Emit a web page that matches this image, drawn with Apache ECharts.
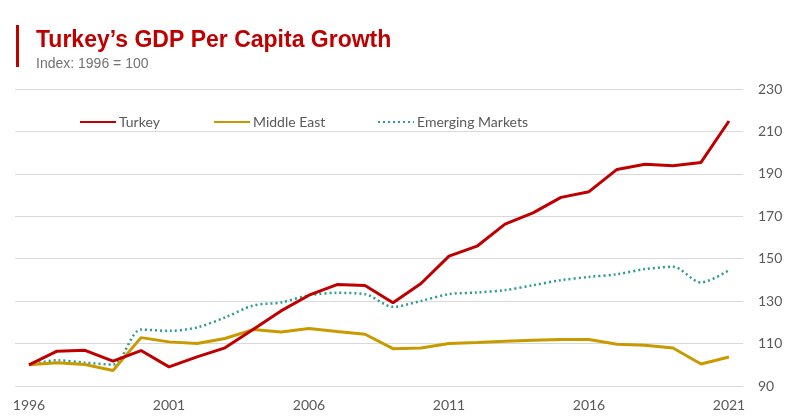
<!DOCTYPE html>
<html>
<head>
<meta charset="utf-8">
<script src="https://cdn.jsdelivr.net/npm/echarts@6/dist/echarts.min.js"></script>
<style>
  html, body { margin: 0; padding: 0; background: #fff; }
  #chart { width: 800px; height: 418px; }
</style>
</head>
<body>
<div id="chart"></div>
<script>
const years = ['1996', '1997', '1998', '1999', '2000', '2001', '2002', '2003', '2004', '2005',
  '2006', '2007', '2008', '2009', '2010', '2011', '2012', '2013', '2014', '2015',
  '2016', '2017', '2018', '2019', '2020', '2021']

const turkey = [100, 106.4, 106.8, 101.7, 106.7, 99.0, 103.7, 108.0, 116.6, 125.4,
  132.8, 137.8, 137.4, 129.2, 138.3, 151.2, 155.9, 166.3, 171.6, 178.9,
  181.6, 192.1, 194.5, 193.8, 195.4, 214.9]

const middleEast = [100, 101.0, 100.1, 97.3, 112.8, 110.8, 110.0, 112.4, 116.6, 115.5,
  117.1, 115.7, 114.4, 107.6, 107.9, 110.0, 110.5, 111.1, 111.6, 111.9,
  111.9, 109.7, 109.2, 107.9, 100.4, 103.7]

const emerging = [100, 102.1, 101.0, 100.1, 116.6, 116.0, 117.6, 122.3, 127.9, 129.4,
  132.8, 133.9, 133.3, 127.3, 130.1, 133.3, 134.1, 135.2, 137.5, 139.9,
  141.4, 142.7, 145.1, 146.2, 138.8, 144.6]

const colors = {
  turkey: '#C00000',
  middleEast: '#C99A00',
  emerging: '#2E9C8E'
}

const labelFont = 'Lato, "Open Sans", sans-serif'

// one legend per item so each sits where the original puts it
function legendAt(name, left) {
  return {
    data: [name],
    left: left,
    top: 115,
    padding: 0,
    itemWidth: 36,
    itemHeight: 12,
    itemGap: 0,
    itemStyle: { opacity: 0 },
    textStyle: { color: '#595959', fontSize: 14, fontFamily: labelFont, padding: [0, 0, 0, -2] }
  }
}

const chart = echarts.init(document.getElementById('chart'))

chart.setOption({
  backgroundColor: '#ffffff',
  animation: false,
  title: {
    text: 'Turkey’s GDP Per Capita Growth',
    subtext: 'Index: 1996 = 100',
    left: 31,
    top: 24,
    itemGap: 5,
    textStyle: {
      color: '#C00000',
      fontSize: 23,
      fontWeight: 'bold',
      fontFamily: '"Liberation Sans", Arial, sans-serif'
    },
    subtextStyle: {
      color: '#737373',
      fontSize: 14,
      fontFamily: '"Liberation Sans", Arial, sans-serif'
    }
  },
  graphic: [{
    type: 'rect',
    shape: { x: 16, y: 25, width: 3, height: 42 },
    style: { fill: '#C00000' }
  }],
  legend: [
    legendAt('Turkey', 79),
    legendAt('Middle East', 213),
    legendAt('Emerging Markets', 377)
  ],
  grid: { left: 15, right: 57, top: 89, bottom: 32 },
  xAxis: {
    type: 'category',
    data: years,
    boundaryGap: true,
    axisLine: { show: false },
    axisTick: { show: false },
    axisLabel: {
      interval: 4,
      color: '#595959',
      fontSize: 14,
      fontFamily: labelFont,
      margin: 12
    }
  },
  yAxis: {
    type: 'value',
    position: 'right',
    min: 90,
    max: 230,
    interval: 20,
    axisLine: { show: false },
    axisTick: { show: false },
    axisLabel: {
      color: '#595959',
      fontSize: 14,
      fontFamily: labelFont,
      margin: 15
    },
    splitLine: { lineStyle: { color: '#d9d9d9', width: 1 } }
  },
  series: [
    {
      name: 'Turkey',
      type: 'line',
      data: turkey,
      symbol: 'none',
      color: colors.turkey,
      lineStyle: { color: colors.turkey, width: 3 },
      z: 3
    },
    {
      name: 'Middle East',
      type: 'line',
      data: middleEast,
      symbol: 'none',
      color: colors.middleEast,
      lineStyle: { color: colors.middleEast, width: 3 },
      z: 2
    },
    {
      name: 'Emerging Markets',
      type: 'line',
      data: emerging,
      symbol: 'none',
      smooth: 0.3,
      color: colors.emerging,
      lineStyle: { color: colors.emerging, width: 2.5, type: [2, 3] },
      z: 1
    }
  ]
})
</script>
</body>
</html>
